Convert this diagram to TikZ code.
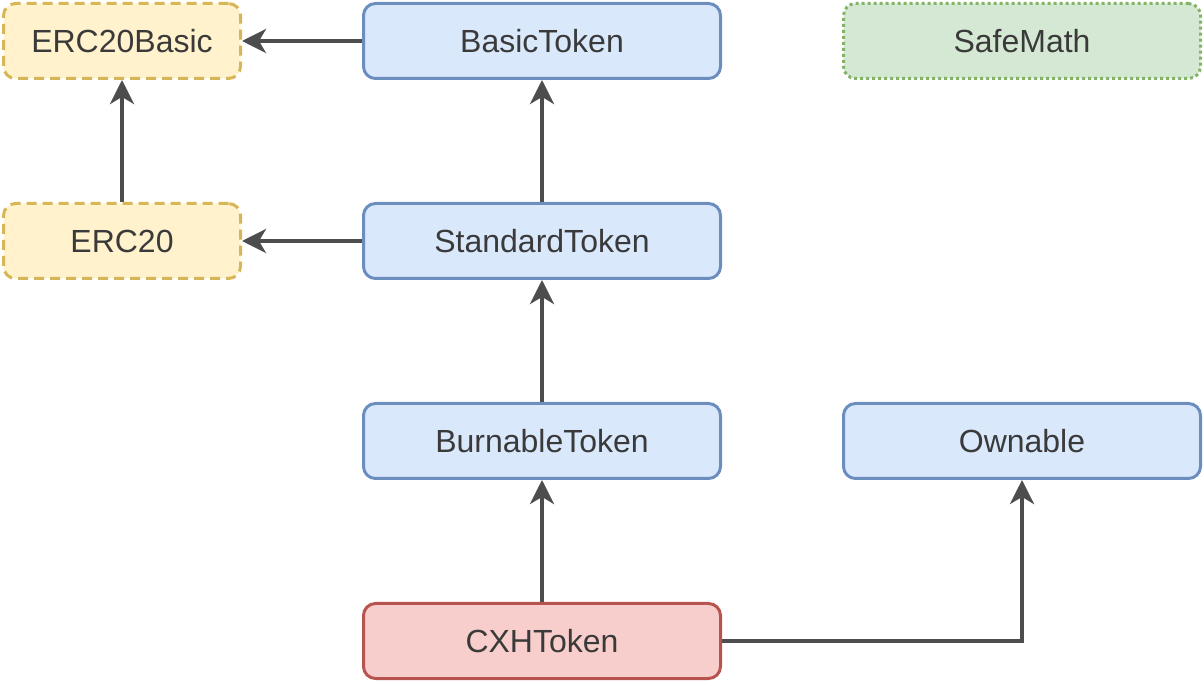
\documentclass[tikz,border=0pt]{standalone}
\usepackage{fontspec}
\setmainfont{Liberation Sans}
\usepackage{tikz}
\usetikzlibrary{arrows.meta}

\definecolor{txtgray}{HTML}{3A3A3A}
\definecolor{arrgray}{HTML}{4D4D4D}
\definecolor{yelfill}{HTML}{FFF2CC}
\definecolor{yeldraw}{HTML}{D6B656}
\definecolor{bluefill}{HTML}{DAE8FC}
\definecolor{bluedraw}{HTML}{6C8EBF}
\definecolor{grnfill}{HTML}{D5E8D4}
\definecolor{grndraw}{HTML}{82B366}
\definecolor{redfill}{HTML}{F8CECC}
\definecolor{reddraw}{HTML}{B85450}

\tikzset{
  cls/.style={rectangle, rounded corners=12pt, line width=3pt, minimum width=357pt,
    minimum height=75pt, text=txtgray, font=\fontsize{32}{38}\selectfont},
  iface/.style={cls, minimum width=237pt, fill=yelfill, draw=yeldraw, dash pattern=on 10pt off 6pt},
  contract/.style={cls, fill=bluefill, draw=bluedraw},
  library/.style={cls, fill=grnfill, draw=grndraw, dash pattern=on 3pt off 3pt},
  mainc/.style={cls, fill=redfill, draw=reddraw},
  inherit/.style={line width=4pt, draw=arrgray, -{Stealth[length=24pt, width=24pt, inset=7pt]}}
}

\begin{document}
\begin{tikzpicture}[x=1pt, y=1pt]
		  \useasboundingbox (0,0) rectangle (1204,685);
		  % top row
		  \node[iface] (erc20basic) at (122,644) {ERC20Basic};
		  \node[contract] (basic) at (542,644) {BasicToken};
		  \node[library] (safemath) at (1022,644) {SafeMath};
		  % second row
		  \node[iface] (erc20) at (122,444) {ERC20};
		  \node[contract] (standard) at (542,444) {StandardToken};
		  % third row
		  \node[contract] (burnable) at (542,244) {BurnableToken};
		  \node[contract] (ownable) at (1022,244) {Ownable};
		  % bottom
		  \node[mainc] (cxh) at (542,44) {CXHToken};

                  \draw[inherit] (basic) -- (erc20basic);
                  \draw[inherit] (erc20) -- (erc20basic);
                  \draw[inherit] (standard) -- (basic);
                  \draw[inherit] (standard) -- (erc20);
                  \draw[inherit] (burnable) -- (standard);
                  \draw[inherit] (cxh) -- (burnable);
                  \draw[inherit] (cxh.east) -| (ownable.south);
		\end{tikzpicture}
\end{document}
